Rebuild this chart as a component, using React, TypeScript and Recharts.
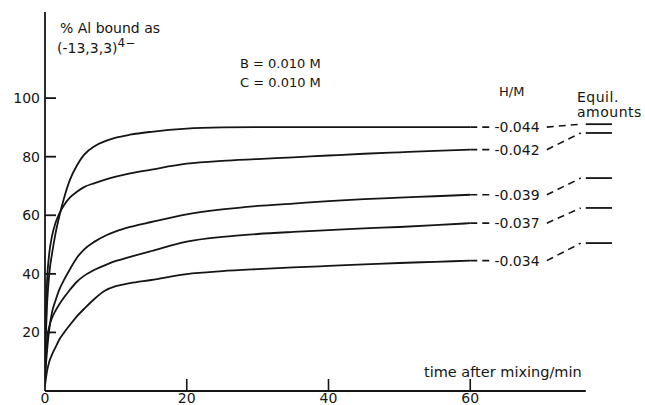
import React from "react";
import { LineChart, Line, XAxis, YAxis, ReferenceLine, ReferenceDot } from "recharts";

// time after mixing / min
const times = [0, 0.3, 0.6, 1, 1.5, 2, 2.7, 3.5, 4.5, 5.5, 7, 8.5, 10, 12, 15, 20, 25, 30, 35, 40, 45, 50, 55, 60];

// % Al bound as (-13,3,3)4- for each H/M
const hm044 = [12, 30, 40, 47, 54, 59.5, 66, 72, 77, 80.6, 83.6, 85.3, 86.5, 87.5, 88.5, 89.6, 90, 90.1, 90.1, 90.1, 90.1, 90.1, 90.1, 90.1];
const hm042 = [15, 38, 47, 53, 57.5, 60.5, 63.5, 66, 68, 69.6, 71, 72.2, 73.2, 74.3, 75.6, 77.6, 78.6, 79.2, 79.8, 80.4, 81, 81.5, 82, 82.4];
const hm039 = [5, 14, 21, 27, 31, 34.5, 38, 41.5, 45.5, 48.3, 51, 53, 54.5, 56, 57.7, 60.3, 62, 63.2, 64, 64.8, 65.5, 66, 66.5, 67];
const hm037 = [4, 18, 22, 25, 27.5, 29.5, 32, 34.5, 37.3, 39.3, 41.4, 43, 44.4, 45.8, 47.8, 51, 52.6, 53.6, 54.3, 54.9, 55.5, 56, 56.6, 57.3];
const hm034 = [2, 7, 10, 12.5, 15, 17.5, 20, 22.5, 25.5, 28, 31.5, 34.3, 35.8, 36.8, 37.9, 39.9, 40.9, 41.6, 42.2, 42.7, 43.2, 43.7, 44.1, 44.5];

const seriesValues = [hm044, hm042, hm039, hm037, hm034];
const hmLabels = ["-0.044", "-0.042", "-0.039", "-0.037", "-0.034"];
const equilValues = [91.1, 88.1, 72.7, 62.5, 50.5];

// positions along time axis for annotation pieces
const leadOutEnd = 63;
const labelT = 66.6;
const connectorStart = 70.8;
const connectorEnd = 75.6;
const equilStart = 76.3;
const equilEnd = 80;
const axisEnd = 76.3;

const xTicks = [0, 20, 40, 60];
const yTicks = [20, 40, 60, 80, 100];

const INK = "#151515";
const FONT = "DejaVu Sans, sans-serif";

const curves = seriesValues.map((vals) => times.map((t, i) => ({ t, v: vals[i] })));
const endValues = seriesValues.map((vals) => vals[vals.length - 1]);
const leadOuts = endValues.map((v) => [{ t: times[times.length - 1], v }, { t: leadOutEnd, v }]);
const connectors = endValues.map((v, i) => [{ t: connectorStart, v }, { t: connectorEnd, v: equilValues[i] }]);
const equils = equilValues.map((v) => [{ t: equilStart, v }, { t: equilEnd, v }]);

const YTick = (props: any) => {
  const { x, y, payload } = props;
  return (
    <g>
      <line x1={x} x2={x + 11} y1={y} y2={y} stroke={INK} strokeWidth={1.8} />
      <text x={x - 5} y={y} dy={5} textAnchor="end" fontSize={14} fontFamily={FONT} fill={INK}>
        {payload.value}
      </text>
    </g>
  );
};

const XTick = (props: any) => {
  const { x, y, payload } = props;
  return (
    <g>
      {payload.value !== 0 && <line x1={x} x2={x} y1={y} y2={y - 12} stroke={INK} strokeWidth={1.6} />}
      <text x={x} y={y + 12} textAnchor="middle" fontSize={14} fontFamily={FONT} fill={INK}>
        {payload.value}
      </text>
    </g>
  );
};

export default function App() {
  return (
    <div style={{ position: "absolute", left: 0, top: 0, width: 645, height: 405, background: "#fff" }}>
      <LineChart width={645} height={405} margin={{ top: 12, right: 33, bottom: 0, left: 1 }}>
        <XAxis
          type="number"
          dataKey="t"
          domain={[0, 80]}
          ticks={xTicks}
          axisLine={false}
          tickLine={false}
          tickSize={0}
          tickMargin={0}
          height={14}
          tick={<XTick />}
          allowDataOverflow
        />
        <YAxis
          type="number"
          dataKey="v"
          domain={[0, 129.4]}
          ticks={yTicks}
          width={44}
          axisLine={{ stroke: INK, strokeWidth: 1.8 }}
          tickLine={false}
          tickSize={0}
          tickMargin={0}
          tick={<YTick />}
          allowDataOverflow
        />
        <ReferenceLine
          segment={[{ x: 0, y: 0 }, { x: axisEnd, y: 0 }]}
          stroke={INK}
          strokeWidth={1.8}
          ifOverflow="visible"
        />
        {curves.map((d, i) => (
          <Line
            key={"c" + i}
            data={d}
            dataKey="v"
            type="monotone"
            stroke={INK}
            strokeWidth={1.8}
            dot={false}
            isAnimationActive={false}
          />
        ))}
        {leadOuts.map((d, i) => (
          <Line
            key={"l" + i}
            data={d}
            dataKey="v"
            type="linear"
            stroke={INK}
            strokeWidth={1.6}
            strokeDasharray="7 5"
            dot={false}
            isAnimationActive={false}
          />
        ))}
        {connectors.map((d, i) => (
          <Line
            key={"k" + i}
            data={d}
            dataKey="v"
            type="linear"
            stroke={INK}
            strokeWidth={1.6}
            strokeDasharray="7 5"
            dot={false}
            isAnimationActive={false}
          />
        ))}
        {equils.map((d, i) => (
          <Line
            key={"e" + i}
            data={d}
            dataKey="v"
            type="linear"
            stroke={INK}
            strokeWidth={1.8}
            dot={false}
            isAnimationActive={false}
          />
        ))}
        {endValues.map((v, i) => (
          <ReferenceDot
            key={"d" + i}
            x={labelT}
            y={v}
            r={0}
            fill="none"
            stroke="none"
            ifOverflow="visible"
            label={{ value: hmLabels[i], position: "center", fontSize: 14, fontFamily: FONT, fill: INK }}
          />
        ))}
      </LineChart>
      <svg
        width={645}
        height={405}
        style={{ position: "absolute", left: 0, top: 0, pointerEvents: "none" }}
        fontFamily={FONT}
        fill={INK}
      >
        <text x={60} y={33} fontSize={14}>% Al bound as</text>
        <text x={57} y={53} fontSize={14}>
          (-13,3,3)
          <tspan dy={-6} fontSize={12}>4−</tspan>
        </text>
        <text x={240} y={68} fontSize={13}>B = 0.010 M</text>
        <text x={240} y={87} fontSize={13}>C = 0.010 M</text>
        <text x={499} y={96} fontSize={13}>H/M</text>
        <text x={577} y={102} fontSize={14} letterSpacing={0.5}>Equil.</text>
        <text x={577} y={117} fontSize={14} letterSpacing={0.5}>amounts</text>
        <text x={424} y={377} fontSize={14.5}>time after mixing/min</text>
      </svg>
    </div>
  );
}
